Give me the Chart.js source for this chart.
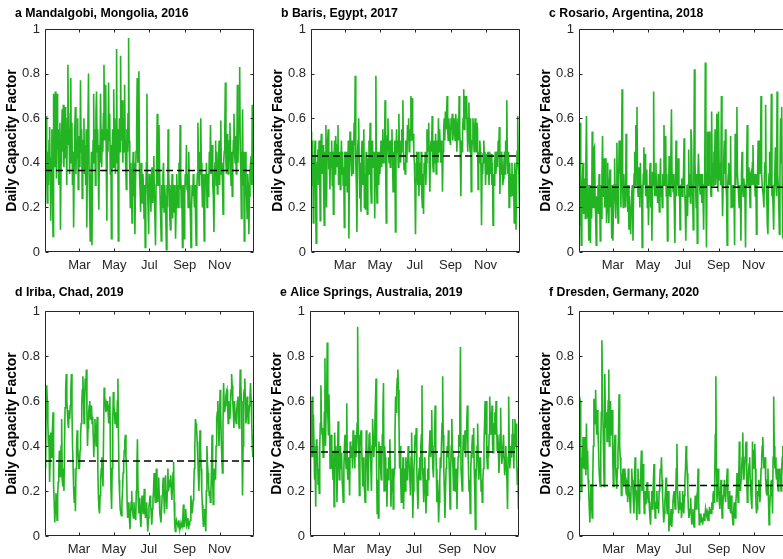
<!DOCTYPE html>
<html>
<head>
<meta charset="utf-8">
<title>Daily Capacity Factor</title>
<script src="https://cdn.jsdelivr.net/npm/chart.js@4.4.1/dist/chart.umd.min.js"></script>
<style>
  html, body { margin: 0; padding: 0; background: #fff; overflow: hidden; }
  body { position: relative; width: 783px; height: 559px; }
  canvas { position: absolute; }
</style>
</head>
<body>
<script>
// daily capacity factor, one value per day starting Jan 1
const mandalgobi2016 = [
  .53,.40,.61,.35,.22,.45,.30,.50,.56,.38, .14,.42,.55,.30,.07,.71,.45,.38,.72,.50,
  .33,.71,.46,.55,.30,.48,.58,.10,.40,.52, .64,.45,.66,.38,.50,.65,.42,.55,.30,.60,
  .84,.48,.55,.35,.62,.78,.40,.58,.30,.45, .11,.40,.55,.65,.35,.50,.42,.60,.28,.45,
  .52,.38,.77,.45,.55,.24,.40,.50,.60,.35, .48,.30,.55,.11,.40,.58,.80,.35,.20,.05,
  .30,.45,.03,.35,.50,.71,.40,.55,.30,.62, .72,.45,.55,.35,.19,.48,.40,.71,.50,.38,
  .55,.45,.62,.84,.50,.60,.75,.40,.14,.55, .45,.76,.50,.62,.35,.48,.06,.40,.55,.38,
  .73,.50,.60,.35,.45,.91,.40,.55,.05,.42, .60,.45,.88,.55,.50,.68,.40,.60,.45,.75,
  .50,.38,.28,.55,.45,.62,.96,.50,.35,.20, .40,.30,.13,.35,.45,.25,.40,.08,.30,.45,
  .55,.78,.40,.50,.81,.35,.28,.18,.40,.30, .22,.35,.28,.15,.30,.02,.25,.40,.71,.30,
  .20,.08,.35,.25,.30,.18,.35,.38,.22,.30, .43,.25,.15,.03,.30,.40,.62,.35,.30,.57,
  .40,.25,.15,.05,.30,.20,.35,.40,.18,.30, .25,.15,.01,.30,.20,.55,.35,.28,.15,.10,
  .30,.20,.35,.15,.30,.25,.18,.30,.06,.20, .35,.25,.30,.20,.40,.28,.57,.35,.20,.30,
  .02,.20,.30,.06,.25,.35,.30,.48,.28,.35, .20,.45,.30,.25,.15,.02,.20,.30,.25,.35,
  .27,.20,.30,.15,.03,.25,.35,.58,.40,.30, .45,.35,.60,.40,.30,.20,.35,.25,.05,.20,
  .35,.30,.40,.20,.35,.25,.30,.45,.35,.57, .40,.35,.48,.30,.25,.09,.35,.40,.50,.30,
  .45,.26,.35,.40,.50,.30,.45,.59,.35,.40, .30,.17,.40,.45,.55,.76,.40,.35,.53,.45,
  .35,.40,.50,.58,.40,.30,.45,.25,.40,.50, .62,.45,.40,.52,.35,.45,.75,.40,.55,.60,
  .83,.45,.35,.15,.40,.64,.30,.45,.05,.35, .45,.30,.25,.15,.35,.30,.08,.25,.35,.40,
  .43,.30,.66,.40,.30,.20
];
const baris2017 = [
  .54,.45,.30,.50,.13,.42,.38,.50,.25,.04, .35,.40,.46,.30,.50,.38,.14,.45,.53,.35,
  .42,.48,.30,.12,.45,.38,.57,.20,.45,.50, .55,.37,.40,.28,.45,.38,.50,.30,.45,.17,
  .40,.50,.35,.52,.45,.38,.48,.57,.30,.42, .45,.28,.40,.50,.35,.45,.30,.38,.11,.45,
  .40,.30,.45,.27,.38,.50,.06,.40,.54,.52, .40,.34,.50,.45,.35,.58,.48,.79,.40,.30,
  .09,.45,.50,.60,.40,.24,.35,.18,.45,.50, .30,.40,.55,.20,.35,.19,.45,.30,.17,.42,
  .35,.50,.40,.58,.30,.22,.45,.50,.38,.40, .45,.15,.40,.79,.35,.22,.45,.40,.30,.45,
  .35,.42,.50,.38,.45,.55,.40,.50,.45,.68, .40,.13,.45,.52,.60,.45,.40,.50,.38,.45,
  .50,.55,.40,.27,.45,.38,.50,.09,.40,.55, .45,.50,.38,.62,.45,.50,.40,.45,.55,.50,
  .68,.45,.37,.40,.35,.50,.45,.40,.57,.50, .60,.45,.55,.50,.70,.55,.69,.50,.53,.45,
  .40,.30,.08,.33,.45,.40,.30,.45,.25,.40, .35,.30,.45,.25,.20,.35,.17,.40,.35,.45,
  .30,.40,.55,.45,.50,.58,.40,.27,.45,.50, .45,.61,.40,.36,.45,.50,.40,.53,.35,.45,
  .50,.40,.60,.45,.55,.48,.40,.50,.45,.27, .45,.55,.60,.50,.63,.55,.60,.70,.55,.50,
  .60,.55,.50,.48,.60,.55,.62,.50,.55,.60, .55,.50,.62,.58,.45,.55,.60,.50,.70,.55,
  .45,.25,.50,.45,.55,.60,.73,.55,.60,.70, .60,.70,.55,.45,.60,.67,.50,.45,.60,.27,
  .45,.50,.60,.55,.45,.55,.60,.50,.45,.58, .55,.28,.45,.40,.50,.45,.38,.12,.40,.35,
  .44,.50,.40,.45,.30,.40,.44,.35,.45,.40, .30,.45,.40,.35,.44,.30,.40,.12,.35,.30,
  .40,.45,.35,.40,.45,.38,.50,.45,.56,.26, .40,.35,.45,.39,.30,.33,.40,.45,.35,.50,
  .45,.68,.40,.35,.45,.20,.40,.25,.35,.30, .40,.25,.35,.30,.13,.40,.30,.10,.35,.45,
  .61,.40,.35,.20,.50
];
const rosario2018 = [
  .12,.35,.58,.20,.03,.25,.32,.40,.17,.25, .33,.15,.40,.61,.30,.15,.25,.05,.30,.20,
  .04,.30,.15,.54,.30,.20,.46,.47,.25,.15, .03,.25,.19,.30,.17,.35,.25,.05,.30,.15,
  .35,.52,.25,.30,.42,.20,.42,.30,.13,.25, .40,.20,.13,.30,.37,.20,.25,.06,.30,.05,
  .20,.30,.42,.25,.15,.30,.49,.25,.13,.30, .50,.35,.50,.20,.40,.73,.30,.20,.35,.25,
  .30,.20,.53,.30,.25,.18,.30,.10,.25,.20, .08,.20,.27,.30,.05,.25,.35,.45,.30,.57,
  .35,.65,.30,.25,.38,.30,.20,.40,.25,.30, .02,.25,.35,.47,.30,.44,.25,.30,.37,.20,
  .30,.12,.25,.35,.40,.20,.30,.05,.36,.30, .72,.30,.25,.35,.40,.25,.30,.22,.35,.25,
  .18,.30,.42,.25,.30,.20,.35,.30,.57,.35, .30,.52,.25,.35,.05,.30,.25,.43,.30,.25,
  .42,.64,.35,.30,.27,.35,.20,.04,.30,.50, .25,.35,.30,.42,.25,.30,.10,.25,.30,.33,
  .25,.30,.35,.51,.30,.20,.05,.25,.30,.16, .30,.46,.25,.35,.22,.55,.50,.30,.25,.10,
  .35,.82,.40,.30,.20,.35,.04,.30,.44,.35, .30,.26,.35,.30,.22,.35,.25,.10,.30,.35,
  .85,.30,.02,.35,.54,.30,.40,.54,.35,.30, .25,.63,.35,.40,.30,.45,.35,.55,.30,.40,
  .62,.35,.27,.63,.40,.32,.35,.30,.70,.35, .16,.30,.40,.50,.35,.55,.30,.25,.03,.30,
  .35,.40,.30,.35,.52,.20,.30,.25,.20,.30, .25,.03,.53,.30,.40,.65,.35,.30,.25,.20,
  .30,.25,.05,.35,.45,.30,.25,.33,.30,.25, .02,.30,.40,.57,.35,.30,.38,.30,.20,.35,
  .36,.30,.40,.48,.30,.35,.30,.25,.35,.08, .30,.35,.50,.30,.50,.35,.40,.70,.35,.30,
  .30,.25,.20,.35,.40,.66,.30,.25,.12,.08, .30,.35,.45,.30,.40,.71,.25,.30,.20,.10,
  .30,.35,.47,.30,.25,.72,.35,.30,.20,.08, .35,.60,.40,.65,.25,.06,.30,.35,.25,.30,
  .20,.35,.25,.40,.30
];
const iriba2019 = [
  .45,.30,.55,.67,.60,.50,.40,.45,.24,.35, .46,.35,.40,.48,.55,.22,.15,.06,.12,.19,
  .15,.07,.18,.24,.30,.38,.32,.26,.40,.52, .25,.22,.30,.20,.40,.57,.65,.72,.60,.55,
  .50,.48,.56,.52,.58,.65,.72,.55,.40,.30, .20,.15,.22,.11,.30,.40,.47,.40,.35,.30,
  .30,.38,.45,.50,.59,.65,.71,.60,.50,.60, .70,.65,.74,.55,.40,.48,.55,.58,.60,.52,
  .55,.58,.50,.53,.45,.35,.45,.52,.45,.40, .48,.53,.30,.18,.12,.10,.18,.25,.30,.35,
  .28,.22,.45,.66,.62,.60,.55,.58,.56,.60, .55,.50,.58,.62,.35,.20,.12,.30,.50,.64,
  .58,.55,.50,.55,.52,.48,.60,.70,.45,.25, .18,.12,.10,.09,.15,.20,.28,.32,.38,.42,
  .45,.35,.30,.15,.08,.12,.15,.08,.03,.10, .15,.20,.12,.10,.08,.15,.10,.12,.07,.20,
  .30,.43,.20,.10,.14,.17,.08,.04,.12,.18, .14,.10,.15,.21,.12,.08,.12,.15,.08,.02,
  .08,.13,.15,.18,.14,.10,.05,.12,.16,.20, .28,.20,.15,.22,.30,.22,.15,.20,.26,.18,
  .10,.08,.06,.12,.18,.22,.26,.18,.10,.20, .27,.18,.12,.20,.30,.20,.22,.24,.25,.27,
  .20,.16,.22,.28,.33,.15,.05,.02,.05,.07, .06,.05,.04,.07,.05,.03,.04,.06,.05,.04,
  .08,.14,.08,.04,.08,.12,.08,.05,.06,.08, .03,.05,.06,.07,.18,.14,.10,.12,.16,.20,
  .30,.40,.52,.50,.48,.42,.35,.28,.20,.32, .47,.38,.30,.20,.14,.08,.04,.08,.12,.06,
  .02,.20,.40,.32,.28,.23,.18,.20,.15,.20, .30,.45,.25,.14,.22,.30,.28,.25,.40,.52,
  .55,.60,.50,.40,.52,.65,.55,.42,.35,.28, .50,.68,.60,.55,.58,.62,.64,.65,.58,.50,
  .60,.55,.52,.58,.65,.72,.67,.60,.55,.48, .60,.55,.52,.50,.56,.60,.62,.55,.48,.60,
  .74,.68,.60,.40,.18,.40,.63,.65,.70,.60, .50,.55,.62,.55,.50,.54,.58,.62,.68,.60,
  .50,.40,.35,.45,.29
];
const aliceSprings2019 = [
  .20,.60,.45,.35,.62,.35,.54,.40,.25,.30, .13,.43,.35,.40,.23,.30,.19,.40,.50,.67,
  .50,.45,.48,.35,.40,.55,.79,.40,.55,.60, .86,.55,.45,.63,.50,.30,.40,.45,.30,.38,
  .25,.35,.13,.46,.35,.40,.30,.15,.35,.51, .35,.25,.30,.40,.30,.37,.25,.20,.15,.30,
  .40,.45,.35,.30,.59,.30,.25,.35,.30,.18, .42,.37,.35,.40,.30,.47,.40,.37,.30,.45,
  .35,.40,.50,.93,.45,.35,.18,.42,.45,.47, .40,.30,.22,.35,.25,.20,.15,.30,.47,.40,
  .30,.20,.35,.45,.46,.37,.30,.20,.40,.52, .45,.35,.40,.50,.60,.70,.30,.10,.25,.08,
  .42,.35,.40,.30,.25,.30,.45,.55,.68,.20, .40,.35,.20,.25,.13,.30,.25,.35,.30,.43,
  .30,.13,.25,.20,.30,.12,.25,.30,.45,.62, .55,.65,.70,.74,.65,.50,.30,.40,.25,.15,
  .30,.25,.35,.12,.25,.30,.20,.35,.30,.25, .30,.40,.35,.30,.25,.18,.35,.46,.30,.08,
  .20,.30,.35,.45,.40,.48,.30,.20,.12,.25, .30,.35,.25,.40,.45,.67,.30,.25,.15,.30,
  .35,.20,.10,.25,.18,.30,.25,.35,.40,.47, .35,.45,.56,.38,.30,.26,.40,.45,.58,.40,
  .30,.15,.25,.20,.06,.15,.25,.35,.30,.41, .50,.71,.45,.30,.20,.08,.20,.30,.35,.40,
  .35,.47,.35,.25,.12,.30,.40,.52,.38,.30, .20,.35,.30,.20,.25,.30,.12,.25,.35,.45,
  .40,.55,.84,.30,.25,.20,.35,.45,.40,.38, .47,.35,.45,.50,.58,.40,.30,.20,.25,.10,
  .30,.37,.40,.45,.35,.48,.30,.20,.03,.25, .30,.40,.50,.35,.25,.30,.28,.35,.20,.25,
  .15,.25,.30,.40,.50,.60,.45,.60,.35,.30, .40,.35,.45,.62,.50,.55,.45,.58,.40,.37,
  .45,.50,.55,.45,.60,.50,.38,.45,.40,.28, .35,.45,.57,.40,.32,.35,.40,.45,.35,.27,
  .35,.40,.30,.25,.12,.35,.62,.40,.30,.35, .40,.35,.45,.52,.40,.30,.45,.52,.40,.50,
  .35,.23,.30,.12,.25
];
const dresden2020 = [
  .16,.62,.60,.40,.20,.35,.30,.44,.35,.30, .44,.35,.27,.50,.30,.38,.25,.20,.12,.06,
  .15,.23,.15,.08,.25,.40,.61,.55,.50,.65, .50,.45,.56,.48,.40,.30,.25,.22,.40,.55,
  .87,.65,.50,.35,.22,.72,.55,.48,.55,.42, .50,.60,.74,.40,.55,.60,.45,.50,.56,.35,
  .22,.30,.40,.45,.30,.25,.21,.30,.36,.45, .63,.40,.35,.30,.18,.25,.27,.30,.22,.25,
  .30,.26,.20,.18,.25,.15,.30,.22,.18,.15, .10,.22,.30,.25,.22,.15,.10,.25,.35,.20,
  .15,.07,.20,.30,.20,.10,.15,.25,.30,.38, .20,.25,.32,.20,.10,.15,.20,.14,.20,.24,
  .18,.15,.20,.12,.08,.05,.15,.20,.12,.18, .25,.32,.15,.08,.12,.15,.20,.12,.15,.10,
  .20,.25,.30,.28,.35,.25,.18,.12,.06,.10, .15,.20,.26,.15,.10,.15,.20,.02,.08,.05,
  .10,.12,.04,.10,.15,.18,.20,.15,.12,.20, .30,.41,.20,.15,.10,.15,.20,.12,.15,.08,
  .12,.20,.15,.10,.18,.25,.30,.40,.35,.28, .20,.12,.08,.10,.12,.17,.10,.05,.08,.12,
  .06,.04,.10,.18,.15,.12,.18,.20,.30,.15, .05,.08,.10,.06,.08,.07,.05,.08,.10,.07,
  .09,.12,.10,.09,.11,.10,.07,.09,.13,.10, .12,.10,.15,.12,.18,.20,.15,.25,.45,.71,
  .30,.15,.22,.30,.20,.15,.12,.20,.25,.15, .08,.12,.18,.20,.25,.18,.15,.22,.25,.30,
  .18,.12,.15,.20,.12,.10,.18,.12,.08,.05, .10,.15,.12,.08,.15,.20,.28,.20,.15,.25,
  .42,.25,.20,.25,.30,.35,.46,.30,.25,.30, .35,.40,.42,.25,.15,.20,.28,.32,.35,.25,
  .20,.15,.12,.42,.30,.35,.38,.41,.30,.15, .10,.12,.20,.18,.25,.20,.15,.22,.30,.35,
  .40,.44,.35,.30,.32,.35,.25,.20,.18,.25, .30,.15,.05,.12,.18,.22,.25,.20,.10,.35,
  .62,.40,.30,.35,.28,.25,.30,.22,.20,.25, .30,.28,.25,.20,.30,.35,.40,.30,.25,.35,
  .30,.25,.40,.30,.35,.28
];

const series = [mandalgobi2016, baris2017, rosario2018, iriba2019, aliceSprings2019, dresden2020];
const years = [2016, 2017, 2018, 2019, 2019, 2020];
const meanCF = [0.365, 0.43, 0.29, 0.333, 0.373, 0.225]; // dashed annual mean
const titles = [
  'a Mandalgobi, Mongolia, 2016',
  'b Baris, Egypt, 2017',
  'c Rosario, Argentina, 2018',
  'd Iriba, Chad, 2019',
  'e Alice Springs, Australia, 2019',
  'f Dresden, Germany, 2020'
];
const monthLabels = ['Mar', 'May', 'Jul', 'Sep', 'Nov'];
const monthIdx = [2, 4, 6, 8, 10]; // month numbers of the ticks (0 = Jan)

// canvas placement on the page, one per panel
const boxes = [
  { left: 0,   top: 0,   padTop: 29, plotH: 223, titleY: 16.5 },
  { left: 266, top: 0,   padTop: 29, plotH: 223, titleY: 16.5 },
  { left: 534, top: 0,   padTop: 29, plotH: 223, titleY: 16.5 },
  { left: 0,   top: 283, padTop: 28, plotH: 225, titleY: 13 },
  { left: 265, top: 283, padTop: 28, plotH: 225, titleY: 13 },
  { left: 534, top: 283, padTop: 28, plotH: 225, titleY: 13 }
];

Chart.defaults.font.family = '"Liberation Sans", Arial, Helvetica, sans-serif';

// matlab style box with inward ticks on all four sides
const boxTicks = {
  id: 'boxTicks',
  afterDraw(chart) {
    const { ctx, chartArea: a, scales } = chart;
    const l = Math.round(a.left) + 0.5, r = Math.round(a.right) - 0.5;
    const t = Math.round(a.top) + 0.5, b = Math.round(a.bottom) - 0.5;
    const len = 3;
    ctx.save();
    ctx.strokeStyle = '#262626';
    ctx.lineWidth = 1;
    ctx.beginPath();
    ctx.rect(l, t, r - l, b - t);
    scales.x.ticks.forEach(tk => {
      const px = Math.round(scales.x.getPixelForValue(tk.value)) + 0.5;
      ctx.moveTo(px, b); ctx.lineTo(px, b - len);
      ctx.moveTo(px, t); ctx.lineTo(px, t + len);
    });
    scales.y.ticks.forEach(tk => {
      const py = Math.round(scales.y.getPixelForValue(tk.value)) + 0.5;
      ctx.moveTo(l, py); ctx.lineTo(l + len, py);
      ctx.moveTo(r, py); ctx.lineTo(r - len, py);
    });
    ctx.stroke();
    ctx.restore();
  }
};

// panel heading, left aligned above the axes
const panelTitle = {
  id: 'panelTitle',
  afterDraw(chart, args, opts) {
    const ctx = chart.ctx;
    ctx.save();
    ctx.font = 'bold 12.3px "Liberation Sans", Arial, sans-serif';
    ctx.fillStyle = '#000';
    ctx.textBaseline = 'alphabetic';
    ctx.fillText(opts.text, opts.x, opts.y);
    ctx.restore();
  }
};

series.forEach((vals, i) => {
  const b = boxes[i];
  const n = vals.length;
  const w = 260, h = b.padTop + b.plotH + 30;
  const canvas = document.createElement('canvas');
  canvas.width = w; canvas.height = h;
  canvas.style.left = b.left + 'px';
  canvas.style.top = b.top + 'px';
  canvas.style.width = w + 'px';
  canvas.style.height = h + 'px';
  document.body.appendChild(canvas);

  const jan1 = Date.UTC(years[i], 0, 1);
  const monthStarts = monthIdx.map(m => (Date.UTC(years[i], m, 1) - jan1) / 864e5);

  new Chart(canvas, {
    type: 'line',
    data: {
      datasets: [{
        data: vals.map((v, d) => ({ x: d, y: v })),
        borderColor: '#22b422',
        borderWidth: 1.6,
        pointRadius: 0,
        order: 2
      }, {
        // mean line sits on top of the daily series
        data: [{ x: 0, y: meanCF[i] }, { x: n - 1, y: meanCF[i] }],
        borderColor: '#000',
        borderWidth: 1.5,
        borderDash: [7, 4],
        pointRadius: 0,
        order: 1
      }]
    },
    options: {
      responsive: false,
      animation: false,
      devicePixelRatio: 1,
      events: [],
      layout: { padding: { top: b.padTop, right: 6, left: 0, bottom: 0 } },
      plugins: {
        legend: { display: false },
        tooltip: { enabled: false },
        panelTitle: { text: titles[i], x: 15, y: b.titleY }
      },
      scales: {
        x: {
          type: 'linear',
          min: 0,
          max: n - 1,
          grid: { display: false, drawTicks: false },
          border: { display: false },
          afterBuildTicks: s => { s.ticks = monthStarts.map(v => ({ value: v })); },
          afterFit: s => { s.height = 30; },
          ticks: {
            autoSkip: false,
            maxRotation: 0,
            padding: 6,
            color: '#262626',
            font: { size: 13 },
            callback: (v, k) => monthLabels[k]
          }
        },
        y: {
          min: 0,
          max: 1,
          grid: { display: false, drawTicks: false },
          border: { display: false },
          afterFit: s => { s.width = 45; },
          ticks: {
            stepSize: 0.2,
            padding: 5,
            color: '#262626',
            font: { size: 13 },
            callback: v => String(+v.toFixed(1))
          },
          title: {
            display: true,
            text: 'Daily Capacity Factor',
            color: '#000',
            font: { size: 14, weight: 'bold' },
            padding: { top: 4, bottom: 0 }
          }
        }
      }
    },
    plugins: [boxTicks, panelTitle]
  });
});
</script>
</body>
</html>
